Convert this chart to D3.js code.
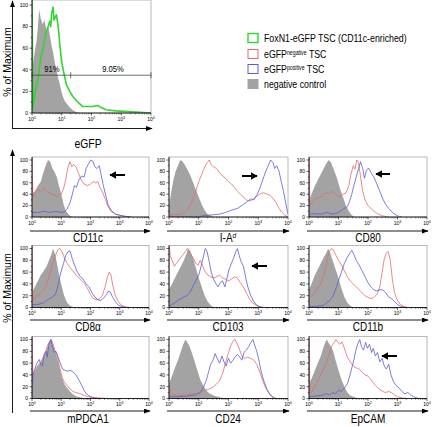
<!DOCTYPE html>
<html><head><meta charset="utf-8">
<script src="https://cdn.jsdelivr.net/npm/d3@7"></script>
<style>body{margin:0;background:#fff}svg{display:block;font-family:"Liberation Sans",Arial,sans-serif}</style>
</head><body><svg id="c" width="432" height="427"></svg>
<script>
// ---- data: [log10 fluorescence, % of maximum] ----
const egfpGray=[[0,0],[0,45],[0.05,48],[0.1,58],[0.15,66],[0.2,80],[0.24,96],[0.29,88],[0.36,82],[0.42,86],[0.49,76],[0.55,80],[0.6,72],[0.66,62],[0.71,56],[0.77,46],[0.82,40],[0.88,32],[0.93,27],[0.99,20],[1.04,15],[1.1,11],[1.16,9],[1.24,6],[1.32,4],[1.4,2],[1.49,1],[1.6,0]];
const egfpGreen=[[0,0],[0,110],[0.03,5],[0.13,24],[0.21,32],[0.29,50],[0.38,61],[0.47,75],[0.54,80],[0.6,85],[0.63,80],[0.66,92],[0.71,98],[0.74,86],[0.77,88],[0.82,91],[0.88,80],[0.93,65],[0.99,49],[1.07,37],[1.16,26],[1.27,20],[1.38,15],[1.54,10],[1.71,6],[1.88,6],[2.04,6],[2.21,7],[2.32,5],[2.49,3],[2.82,2],[3.38,1],[4.0,0]];
const egfpGateLabels=["91%","9.05%"];

const cd11cGray=[[0,0],[0,40],[0.1,45],[0.2,55],[0.3,62],[0.4,80],[0.48,92],[0.55,100],[0.62,97],[0.7,85],[0.78,78],[0.85,70],[0.92,55],[1.0,40],[1.08,22],[1.15,12],[1.22,6],[1.3,2],[1.4,0]];
const cd11cNeg=[[0,0],[0,110],[0.03,35],[0.1,42],[0.2,48],[0.3,45],[0.4,50],[0.5,44],[0.6,42],[0.7,40],[0.8,37],[0.9,35],[1.0,40],[1.08,50],[1.15,65],[1.22,85],[1.3,97],[1.36,88],[1.42,92],[1.5,88],[1.58,78],[1.68,65],[1.78,58],[1.9,55],[2.0,58],[2.1,62],[2.18,60],[2.25,62],[2.32,52],[2.4,45],[2.5,32],[2.6,18],[2.7,10],[2.85,5],[3.0,3],[3.2,1],[3.4,0]];
const cd11cPos=[[0,0],[0,8],[0.2,8],[0.4,10],[0.6,8],[0.8,10],[1.0,8],[1.1,9],[1.2,14],[1.3,25],[1.38,40],[1.45,55],[1.52,52],[1.6,65],[1.7,72],[1.78,70],[1.85,85],[1.92,92],[2.0,100],[2.08,98],[2.15,88],[2.22,85],[2.3,90],[2.36,75],[2.44,55],[2.52,38],[2.6,22],[2.7,12],[2.85,5],[3.0,3],[3.2,1],[3.4,0]];

const iadGray=[[0,0],[0,20],[0.08,45],[0.15,65],[0.22,80],[0.3,90],[0.38,100],[0.45,98],[0.52,92],[0.6,85],[0.7,75],[0.8,62],[0.9,48],[1.0,35],[1.1,22],[1.2,12],[1.3,5],[1.4,2],[1.5,0]];
const iadNeg=[[0,0],[0,3],[0.2,4],[0.4,5],[0.5,8],[0.6,12],[0.7,18],[0.8,30],[0.9,45],[1.0,62],[1.1,75],[1.2,88],[1.28,95],[1.35,100],[1.42,92],[1.5,88],[1.6,85],[1.7,78],[1.8,72],[1.9,68],[2.0,62],[2.1,58],[2.2,52],[2.3,45],[2.4,40],[2.5,35],[2.6,30],[2.7,28],[2.8,30],[2.9,35],[3.0,38],[3.1,42],[3.2,42],[3.3,40],[3.4,38],[3.5,32],[3.6,25],[3.7,15],[3.8,8],[3.9,3],[4.0,0]];
const iadPos=[[0,0],[1.0,0],[1.1,2],[1.3,3],[1.5,4],[1.7,5],[1.9,8],[2.1,12],[2.3,15],[2.5,22],[2.65,28],[2.75,32],[2.85,30],[2.95,38],[3.05,50],[3.15,65],[3.25,80],[3.35,92],[3.42,100],[3.5,95],[3.55,85],[3.62,90],[3.7,80],[3.78,60],[3.85,45],[3.92,25],[4.0,5]];

const cd80Gray=[[0,0],[0,28],[0.1,42],[0.2,55],[0.3,65],[0.4,75],[0.5,85],[0.6,95],[0.67,100],[0.75,95],[0.85,82],[0.95,68],[1.05,50],[1.15,35],[1.25,20],[1.35,10],[1.45,3],[1.55,0]];
const cd80Neg=[[0,0],[0,110],[0.03,20],[0.1,25],[0.2,30],[0.3,33],[0.4,35],[0.5,40],[0.6,42],[0.7,40],[0.8,46],[0.85,42],[0.95,38],[1.05,35],[1.15,40],[1.25,42],[1.35,55],[1.42,75],[1.5,90],[1.56,84],[1.62,100],[1.68,95],[1.75,70],[1.82,45],[1.9,30],[2.0,20],[2.1,15],[2.2,10],[2.35,5],[2.5,2],[2.7,0]];
const cd80Pos=[[0,0],[0,5],[0.2,6],[0.4,5],[0.6,8],[0.8,5],[1.0,8],[1.1,12],[1.2,15],[1.3,18],[1.38,28],[1.45,40],[1.52,55],[1.6,70],[1.68,85],[1.75,97],[1.82,85],[1.88,68],[1.95,82],[2.02,86],[2.1,78],[2.2,70],[2.3,58],[2.4,45],[2.5,32],[2.6,22],[2.7,15],[2.85,7],[3.0,2],[3.15,0]];

const cd8Gray=[[0,0],[0,25],[0.1,35],[0.2,45],[0.3,55],[0.4,62],[0.5,70],[0.6,82],[0.66,90],[0.72,100],[0.8,88],[0.88,68],[0.95,50],[1.02,35],[1.1,20],[1.2,8],[1.3,3],[1.45,0]];
const cd8Neg=[[0,0],[0,110],[0.03,12],[0.1,16],[0.2,20],[0.3,24],[0.4,30],[0.5,40],[0.6,55],[0.7,72],[0.8,88],[0.88,98],[0.95,100],[1.02,95],[1.1,85],[1.2,75],[1.3,68],[1.4,62],[1.5,55],[1.6,50],[1.7,45],[1.8,40],[1.9,32],[2.0,22],[2.1,15],[2.2,13],[2.3,14],[2.4,20],[2.5,35],[2.58,52],[2.64,60],[2.7,55],[2.76,38],[2.85,20],[2.95,10],[3.05,4],[3.2,1],[3.35,0]];
const cd8Pos=[[0,0],[0,5],[0.2,5],[0.4,8],[0.5,12],[0.6,15],[0.7,18],[0.8,22],[0.88,35],[0.95,52],[1.02,65],[1.08,75],[1.15,88],[1.22,94],[1.3,96],[1.38,82],[1.45,72],[1.55,60],[1.65,52],[1.75,48],[1.85,40],[1.95,35],[2.05,25],[2.15,18],[2.25,13],[2.35,12],[2.45,16],[2.55,22],[2.62,28],[2.68,26],[2.75,18],[2.85,10],[2.95,4],[3.05,2],[3.2,0]];

const cd103Gray=[[0,0],[0,30],[0.1,40],[0.2,50],[0.3,60],[0.4,70],[0.5,80],[0.58,90],[0.65,100],[0.72,95],[0.8,85],[0.9,68],[1.0,50],[1.1,35],[1.2,20],[1.3,10],[1.4,4],[1.5,0]];
const cd103Neg=[[0,0],[0,110],[0.04,88],[0.1,80],[0.18,70],[0.25,75],[0.35,82],[0.45,88],[0.55,95],[0.62,100],[0.7,92],[0.8,85],[0.9,75],[0.98,72],[1.05,80],[1.12,72],[1.2,62],[1.3,55],[1.4,52],[1.5,50],[1.6,52],[1.7,55],[1.8,50],[1.9,48],[2.0,45],[2.1,48],[2.2,52],[2.3,50],[2.4,42],[2.5,35],[2.6,25],[2.7,15],[2.8,8],[2.95,3],[3.1,1],[3.2,0]];
const cd103Pos=[[0,0],[0,2],[0.1,5],[0.2,8],[0.3,12],[0.4,15],[0.5,18],[0.6,20],[0.7,25],[0.8,35],[0.9,45],[1.0,55],[1.08,70],[1.15,85],[1.22,100],[1.28,95],[1.35,78],[1.42,60],[1.5,48],[1.58,40],[1.65,35],[1.72,42],[1.8,45],[1.88,35],[1.95,50],[2.02,65],[2.1,75],[2.18,85],[2.25,95],[2.3,100],[2.36,88],[2.42,78],[2.5,70],[2.58,50],[2.65,35],[2.75,20],[2.85,10],[2.95,4],[3.1,0]];

const cd11bGray=[[0,0],[0,30],[0.1,42],[0.2,55],[0.3,65],[0.4,75],[0.5,85],[0.58,92],[0.65,100],[0.72,92],[0.8,80],[0.9,65],[1.0,50],[1.1,32],[1.2,18],[1.3,8],[1.4,3],[1.5,0]];
const cd11bNeg=[[0,0],[0,18],[0.1,20],[0.2,25],[0.3,32],[0.4,40],[0.5,55],[0.58,70],[0.65,88],[0.72,98],[0.78,100],[0.85,95],[0.92,88],[1.0,80],[1.1,72],[1.2,62],[1.3,52],[1.4,45],[1.5,40],[1.6,35],[1.7,30],[1.8,25],[1.9,20],[2.0,17],[2.1,15],[2.2,17],[2.3,22],[2.4,35],[2.48,60],[2.55,82],[2.62,92],[2.68,95],[2.75,82],[2.82,50],[2.9,25],[3.0,12],[3.1,5],[3.2,2],[3.35,0]];
const cd11bPos=[[0,0],[0,2],[0.2,2],[0.4,3],[0.5,4],[0.6,8],[0.7,12],[0.8,18],[0.9,30],[1.0,45],[1.1,60],[1.2,75],[1.3,85],[1.38,92],[1.45,97],[1.52,90],[1.6,80],[1.7,72],[1.8,62],[1.9,52],[2.0,42],[2.1,35],[2.2,30],[2.3,28],[2.4,30],[2.5,30],[2.6,25],[2.7,18],[2.8,15],[2.9,10],[3.0,5],[3.1,2],[3.25,0]];

const pdcaGray=[[0,0],[0,38],[0.1,45],[0.2,55],[0.3,60],[0.4,70],[0.48,80],[0.55,90],[0.62,98],[0.66,100],[0.72,90],[0.8,78],[0.88,65],[0.95,50],[1.02,35],[1.1,25],[1.2,18],[1.3,12],[1.4,7],[1.5,4],[1.65,2],[1.8,0]];
const pdcaNeg=[[0,0],[0,110],[0.03,40],[0.1,47],[0.2,56],[0.3,62],[0.4,72],[0.48,82],[0.55,92],[0.62,98],[0.66,100],[0.72,92],[0.8,80],[0.88,68],[0.95,52],[1.02,38],[1.1,28],[1.2,22],[1.3,16],[1.4,12],[1.5,10],[1.6,9],[1.7,7],[1.8,5],[1.9,3],[2.1,2],[2.3,1],[2.6,0]];
const pdcaPos=[[0,0],[0,12],[0.03,40],[0.1,50],[0.15,58],[0.2,62],[0.25,66],[0.3,58],[0.35,55],[0.42,75],[0.48,80],[0.52,70],[0.58,92],[0.64,100],[0.7,88],[0.76,78],[0.82,80],[0.88,72],[0.95,62],[1.0,55],[1.05,50],[1.12,48],[1.2,46],[1.3,48],[1.4,45],[1.5,40],[1.6,32],[1.7,22],[1.8,12],[1.9,6],[2.0,3],[2.2,0]];

const cd24Gray=[[0,0],[0,25],[0.1,38],[0.2,52],[0.3,65],[0.4,80],[0.48,92],[0.55,100],[0.6,96],[0.68,90],[0.75,80],[0.85,65],[0.95,48],[1.05,32],[1.15,22],[1.25,14],[1.35,9],[1.5,5],[1.7,2],[1.9,0]];
const cd24Neg=[[0,0],[0,20],[0.05,8],[0.2,6],[0.4,5],[0.6,6],[0.8,8],[1.0,10],[1.1,12],[1.2,14],[1.3,15],[1.4,17],[1.5,20],[1.6,25],[1.7,30],[1.8,42],[1.9,60],[2.0,78],[2.08,90],[2.15,97],[2.22,100],[2.3,92],[2.38,82],[2.45,72],[2.55,68],[2.65,70],[2.75,68],[2.85,65],[2.95,58],[3.05,45],[3.15,30],[3.25,18],[3.35,10],[3.45,4],[3.6,0]];
const cd24Pos=[[0,0],[0,3],[0.3,3],[0.6,4],[0.9,6],[1.05,10],[1.15,18],[1.25,30],[1.33,45],[1.4,58],[1.48,65],[1.55,76],[1.62,68],[1.7,60],[1.78,72],[1.85,62],[1.92,55],[2.0,68],[2.07,60],[2.15,65],[2.22,70],[2.3,75],[2.38,70],[2.45,65],[2.52,78],[2.6,82],[2.68,88],[2.75,95],[2.82,100],[2.88,90],[2.95,80],[3.02,65],[3.1,45],[3.2,28],[3.3,15],[3.4,6],[3.55,0]];

const epcamGray=[[0,0],[0,25],[0.1,35],[0.2,48],[0.3,60],[0.4,72],[0.48,85],[0.55,95],[0.6,100],[0.66,95],[0.74,88],[0.82,80],[0.9,65],[1.0,48],[1.1,32],[1.2,20],[1.3,10],[1.4,5],[1.55,2],[1.7,0]];
const epcamNeg=[[0,0],[0,110],[0.03,8],[0.1,12],[0.2,20],[0.3,30],[0.4,40],[0.5,50],[0.6,62],[0.7,78],[0.78,90],[0.85,95],[0.92,100],[0.98,95],[1.05,92],[1.12,96],[1.2,85],[1.3,70],[1.4,62],[1.5,55],[1.6,52],[1.7,50],[1.8,45],[1.9,40],[2.0,38],[2.1,32],[2.2,25],[2.3,20],[2.4,15],[2.5,12],[2.6,10],[2.7,12],[2.8,10],[2.9,6],[3.0,3],[3.15,1],[3.3,0]];
const epcamPos=[[0,0],[0,3],[0.2,4],[0.4,5],[0.6,8],[0.7,6],[0.8,10],[0.9,8],[1.0,14],[1.1,12],[1.2,18],[1.3,25],[1.38,38],[1.45,52],[1.52,65],[1.58,80],[1.65,92],[1.72,100],[1.78,88],[1.85,82],[1.92,95],[1.98,85],[2.05,92],[2.12,78],[2.18,85],[2.25,72],[2.32,78],[2.4,62],[2.48,68],[2.55,55],[2.62,50],[2.7,58],[2.78,40],[2.85,30],[2.95,22],[3.05,18],[3.15,12],[3.25,8],[3.35,10],[3.45,6],[3.55,3],[3.7,0]];

const markers=["CD11c","I-A","CD80","CD8α","CD103","CD11b","mPDCA1","CD24","EpCAM"];
const yTicks=[0,20,40,60,80,100];
const xDecades=[0,1,2,3,4];
const legendLabels=["FoxN1-eGFP TSC (CD11c-enriched)","eGFP","eGFP","negative control"];

// ---- drawing ----
const C={gray:"#a3a3a3",red:"#e06c6c",blue:"#5c5cd6",green:"#2fd62f"};
const svg=d3.select("#c");
const defs=svg.append("defs");
function mk(id,w,h){defs.append("marker").attr("id",id).attr("viewBox","0 0 10 10").attr("refX",9).attr("refY",5)
 .attr("markerWidth",w).attr("markerHeight",h).attr("markerUnits","userSpaceOnUse").attr("orient","auto")
 .attr("preserveAspectRatio","none").append("path").attr("d","M0,0L10,5L0,10Z").attr("fill","#000");}
mk("ah",7,5); mk("ah2",7,8);
const SX=0.8;
function stext(x,y,size,anchor,sx,par){const g=(par||svg).append("g").attr("transform",`translate(${x},${y}) scale(${sx},1)`);
 return g.append("text").attr("font-size",size).attr("text-anchor",anchor).attr("fill","#000");}
function arrow(x1,y1,x2,y2,id,w){svg.append("line").attr("x1",x1).attr("y1",y1).attr("x2",x2).attr("y2",y2)
 .attr("stroke","#000").attr("stroke-width",w).attr("marker-end",`url(#${id})`);}

let clipN=0;
function panel(p){
 const x=d3.scaleLog().domain([1,1e4]).range([p.x0,p.x1]);
 const y=d3.scaleLinear().domain([0,100]).range([p.yb,p.yt]);
 const id="cp"+(clipN++);
 defs.append("clipPath").attr("id",id).append("rect").attr("x",p.x0).attr("y",p.ft).attr("width",p.x1-p.x0).attr("height",p.yb-p.ft);
 const g=svg.append("g").attr("clip-path",`url(#${id})`);
 const X=d=>x(Math.pow(10,d[0])), Y=d=>y(d[1]);
 g.append("path").datum(p.gray).attr("d",d3.area().x(X).y0(p.yb).y1(Y)).attr("fill",C.gray);
 p.lines.forEach(l=>g.append("path").datum(l.data).attr("d",d3.line().x(X).y(Y)).attr("fill","none")
   .attr("stroke",l.color).attr("stroke-width",l.w).attr("stroke-linejoin","round"));
 svg.append("rect").attr("x",p.x0).attr("y",p.ft).attr("width",p.x1-p.x0).attr("height",p.yb-p.ft)
  .attr("fill","none").attr("stroke","#8a8a8a").attr("stroke-width",0.6);
 svg.append("line").attr("x1",p.x0).attr("x2",p.x0).attr("y1",p.ft).attr("y2",p.yb).attr("stroke","#000").attr("stroke-width",0.8);
 svg.append("line").attr("x1",p.x0).attr("x2",p.x1).attr("y1",p.yb).attr("y2",p.yb).attr("stroke","#000").attr("stroke-width",0.8);
 yTicks.forEach(t=>{
  svg.append("line").attr("x1",p.x0-2.5).attr("x2",p.x0).attr("y1",y(t)).attr("y2",y(t)).attr("stroke","#000").attr("stroke-width",0.6);
  svg.append("text").attr("x",p.x0-4).attr("y",y(t)+1.8).attr("font-size",5).attr("text-anchor","end").text(t);
 });
 d3.range(10,100,20).forEach(t=>svg.append("line").attr("x1",p.x0-1.3).attr("x2",p.x0).attr("y1",y(t)).attr("y2",y(t)).attr("stroke","#000").attr("stroke-width",0.5));
 xDecades.forEach(e=>{
  const xx=x(Math.pow(10,e));
  svg.append("line").attr("x1",xx).attr("x2",xx).attr("y1",p.yb).attr("y2",p.yb+2.5).attr("stroke","#000").attr("stroke-width",0.6);
  const t=svg.append("text").attr("x",xx).attr("y",p.yb+7.5).attr("font-size",5).attr("text-anchor","middle");
  t.append("tspan").text("10"); t.append("tspan").attr("dy",-2).attr("font-size",3.6).text(e);
  if(e<4) for(let k=2;k<10;k++){const mx=x(k*Math.pow(10,e));
   svg.append("line").attr("x1",mx).attr("x2",mx).attr("y1",p.yb).attr("y2",p.yb+1.4).attr("stroke","#000").attr("stroke-width",0.45);}
 });
 return {x,y};
}

// top eGFP panel
const topP=panel({x0:32,x1:151,yt:5,yb:113,ft:0,gray:egfpGray,lines:[{data:egfpGreen,color:C.green,w:1.6}]});
{
 const gy=topP.y(35);
 svg.append("line").attr("x1",topP.x(1)).attr("x2",topP.x(1e4)).attr("y1",gy).attr("y2",gy).attr("stroke","#333").attr("stroke-width",0.7);
 [1,Math.pow(10,1.3),1e4].forEach(v=>svg.append("line").attr("x1",topP.x(v)).attr("x2",topP.x(v)).attr("y1",gy-3).attr("y2",gy+3).attr("stroke","#333").attr("stroke-width",0.7));
 stext(52,72,9,"middle",0.85).text(egfpGateLabels[0]);
 stext(113,72,9,"middle",0.85).text(egfpGateLabels[1]);
}
arrow(12.5,128.5,12.5,1,"ah",0.9);
arrow(12,128.5,152,128.5,"ah",0.9);
svg.append("g").attr("transform","translate(10.5,62) rotate(-90)").append("text").attr("font-size",10.5).attr("text-anchor","middle").text("% of Maximum");
stext(88,148,13,"middle",SX).text("eGFP");

// legend
const legY=[38,54,69,84];
const legStyles=[{s:C.green,f:"none",w:1.4},{s:C.red,f:"none",w:1},{s:C.blue,f:"none",w:1},{s:C.gray,f:C.gray,w:1}];
legY.forEach((ly,i)=>{
 svg.append("rect").attr("x",248).attr("y",ly-4.5).attr("width",10).attr("height",9).attr("fill",legStyles[i].f).attr("stroke",legStyles[i].s).attr("stroke-width",legStyles[i].w);
 const t=stext(264,ly+4,11,"start",SX);
 t.append("tspan").text(legendLabels[i]);
 if(i==1||i==2){t.append("tspan").attr("dy",-3.5).attr("font-size",6.5).text(i==1?"negative":"positive");
  t.append("tspan").attr("dy",3.5).text(" TSC");}
});

// grid
const cols=[[32,149],[169,288],[309,427]];
const rows=[{yt:160,yb:217,ax:231,lb:242},{yt:248.5,yb:307.5,ax:320,lb:330.5},{yt:339.5,yb:398.5,ax:411,lb:423}];
const gridData=[[cd11cGray,cd11cNeg,cd11cPos],[iadGray,iadNeg,iadPos],[cd80Gray,cd80Neg,cd80Pos],
 [cd8Gray,cd8Neg,cd8Pos],[cd103Gray,cd103Neg,cd103Pos],[cd11bGray,cd11bNeg,cd11bPos],
 [pdcaGray,pdcaNeg,pdcaPos],[cd24Gray,cd24Neg,cd24Pos],[epcamGray,epcamNeg,epcamPos]];
const cx=[88,228,368];
gridData.forEach((d,i)=>{
 const r=rows[Math.floor(i/3)], c=cols[i%3];
 panel({x0:c[0],x1:c[1],yt:r.yt,yb:r.yb,ft:r.yt-3,gray:d[0],lines:[{data:d[1],color:C.red,w:0.8},{data:d[2],color:C.blue,w:0.8}]});
 arrow(c[0]-2,r.ax,c[1]+1,r.ax,"ah",0.9);
 const t=stext(cx[i%3],r.lb,12.5,"middle",SX);
 t.append("tspan").text(markers[i]);
 if(i==1) t.append("tspan").attr("dy",-4.5).attr("font-size",8).attr("font-style","italic").text("d");
});
arrow(12.5,413,12.5,150,"ah",0.9);
svg.append("g").attr("transform","translate(10.5,288) rotate(-90)").append("text").attr("font-size",10.5).attr("text-anchor","middle").text("% of Maximum");

// black pointer arrows
arrow(125,175,110,175,"ah2",2);
arrow(242,176,257,176,"ah2",2);
arrow(390,174,376,174,"ah2",2);
arrow(267,266,252,266,"ah2",2);
arrow(397,356,382,356,"ah2",2);
</script></body></html>
